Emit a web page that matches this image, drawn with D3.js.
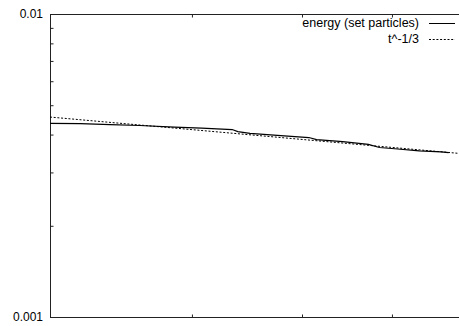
<!DOCTYPE html>
<html>
<head>
<meta charset="utf-8">
<script src="https://cdn.jsdelivr.net/npm/d3@7"></script>
<style>
body { margin: 0; background: #fff; }
</style>
</head>
<body>
<div id="chart"></div>
<script>
var energyT = [300, 319, 339, 360, 386, 408, 434, 439, 450, 479, 507, 515, 543, 572, 585, 607, 634, 663, 673];
var energyV = [0.004357, 0.004347, 0.004317, 0.004285, 0.004236, 0.004204, 0.004156, 0.004093, 0.004038, 0.003971,
               0.003911, 0.003852, 0.003794, 0.003715, 0.003626, 0.003585, 0.003536, 0.003509, 0.003485];
var powT = [300, 400, 500, 600, 700];
var powV = [0.00457, 0.004153, 0.003855, 0.003628, 0.003446];
var yLabels = [0.001, 0.01];
var yMinor = [0.002, 0.003, 0.004, 0.005, 0.006, 0.007, 0.008, 0.009];
var xMinor = [400, 500, 600];
var seriesNames = ['energy (set particles)', 't^-1/3'];

var width = 459;
var height = 326;
var margin = { top: 14, bottom: 9, left: 50, right: -9 };

var svg = d3.select('#chart')
  .append('svg')
  .attr('width', width)
  .attr('height', height)
  .style('font-family', 'Liberation Sans, Arial, sans-serif');

var x = d3.scaleLog()
  .domain([300, 700])
  .range([margin.left, width - margin.right]);

var y = d3.scaleLog()
  .domain([0.001, 0.01])
  .range([height - margin.bottom, margin.top]);

// frame
svg.append('rect')
  .attr('x', x(300) + 0.5)
  .attr('y', y(0.01) + 0.5)
  .attr('width', x(700) - x(300))
  .attr('height', y(0.001) - y(0.01))
  .attr('fill', 'none')
  .attr('stroke', '#222')
  .attr('stroke-width', 1);

// minor ticks, pointing inward
svg.append('g')
  .attr('transform', `translate(${margin.left + 0.5},0)`)
  .call(d3.axisRight(y).tickValues(yMinor).tickSize(3).tickFormat(''))
  .call(g => g.select('.domain').remove())
  .selectAll('line').attr('stroke', '#222');

svg.append('g')
  .attr('transform', `translate(0,${height - margin.bottom + 0.5})`)
  .call(d3.axisTop(x).tickValues(xMinor).tickSize(3).tickFormat(''))
  .call(g => g.select('.domain').remove())
  .selectAll('line').attr('stroke', '#222');

svg.append('g')
  .attr('transform', `translate(0,${margin.top + 0.5})`)
  .call(d3.axisBottom(x).tickValues(xMinor).tickSize(3).tickFormat(''))
  .call(g => g.select('.domain').remove())
  .selectAll('line').attr('stroke', '#222');

// y labels
svg.append('g')
  .selectAll('text')
  .data(yLabels)
  .join('text')
  .attr('x', margin.left - 7)
  .attr('y', d => y(d))
  .attr('dy', '0.35em')
  .attr('text-anchor', 'end')
  .attr('font-size', '12px')
  .attr('fill', '#000')
  .text(d => d);

var line = d3.line()
  .x(d => x(d[0]))
  .y(d => y(d[1]));

svg.append('path')
  .datum(energyT.map((t, i) => [t, energyV[i]]))
  .attr('d', line)
  .attr('fill', 'none')
  .attr('stroke', '#000')
  .attr('stroke-width', 1.2);

svg.append('path')
  .datum(powT.map((t, i) => [t, powV[i]]))
  .attr('d', line)
  .attr('fill', 'none')
  .attr('stroke', '#000')
  .attr('stroke-width', 1)
  .attr('stroke-dasharray', '2,1.7');

// legend
var legend = svg.append('g');
seriesNames.forEach(function (name, i) {
  var ly = 23 + i * 16;
  legend.append('text')
    .attr('x', 419)
    .attr('y', ly)
    .attr('dy', '0.35em')
    .attr('text-anchor', 'end')
    .attr('font-size', '12.5px')
    .text(name);
  legend.append('line')
    .attr('x1', 429).attr('x2', 455)
    .attr('y1', ly + 0.5).attr('y2', ly + 0.5)
    .attr('stroke', '#000')
    .attr('stroke-width', 1)
    .attr('stroke-dasharray', i === 1 ? '2,1.7' : null);
});
</script>
</body>
</html>
